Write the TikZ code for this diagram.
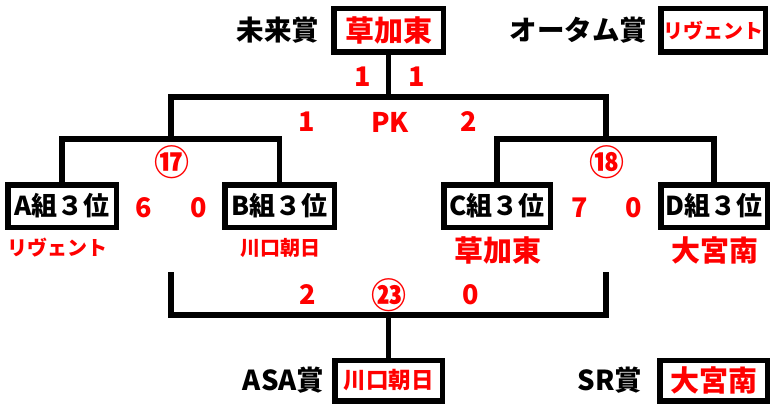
\documentclass[tikz,border=0pt]{standalone}
\usepackage{fontspec}
\setmainfont{Noto Sans CJK JP}
\usetikzlibrary{positioning}
\tikzset{
  teambox/.style={draw,line width=5.5pt,minimum height=43.5pt,inner sep=0pt,text=red},
  grpbox/.style={draw,line width=5.5pt,minimum width=108.5pt,minimum height=42.5pt,inner sep=0pt,font=\bfseries\fontsize{26}{26}\selectfont},
  prize/.style={inner sep=0pt,font=\bfseries\fontsize{27.5}{28}\selectfont},
  winner/.style={text=red,inner sep=0pt},
  score/.style={text=red,inner sep=0pt,font=\bfseries\fontsize{27}{27}\selectfont},
  circ/.style={text=red,inner sep=0pt,font=\bfseries\fontsize{35}{35}\selectfont},
  big/.style={font=\bfseries\fontsize{29}{29}\selectfont},
  small/.style={font=\bfseries\fontsize{20}{20}\selectfont}
}
\begin{document}
\begin{tikzpicture}[x=1pt,y=-1pt,line width=5.5pt]
\useasboundingbox (0,0) rectangle (771,404);
% boxes
\node[teambox,big,minimum width=109.5pt] (champ) at (388.5,30.5) {草加東};
\node[teambox,small,minimum width=104.5pt] (autumn) at (713,30.5) {リヴェント};
\node[grpbox] (a3) at (62,206) {A組３位};
\node[grpbox,minimum width=109.5pt] (b3) at (279.5,206) {B組３位};
\node[grpbox,minimum width=106.5pt] (c3) at (497,206) {C組３位};
\node[grpbox,minimum width=106.5pt] (d3) at (714,206) {D組３位};
\node[teambox,font=\bfseries\fontsize{22.5}{23}\selectfont,minimum width=107.5pt,minimum height=40.5pt] (asa) at (388.5,380.5) {川口朝日};
\node[teambox,big,minimum width=107.5pt,minimum height=40.5pt] (sr) at (713.5,380.5) {大宮南};
% prizes
\node[prize,left=9pt of champ] {未来賞};
\node[prize,left=8pt of autumn] {オータム賞};
\node[prize,left=5pt of asa] {ASA賞};
\node[prize,left=12pt of sr] {SR賞};
% teams
\node[winner,small] (ta) at (58,248) {リヴェント};
\node[winner,small] (tb) at (280,248) {川口朝日};
\node[winner,big] (tc) at (498,250) {草加東};
\node[winner,big] (td) at (715,250) {大宮南};
% bracket
\coordinate (ab) at (171,139);
\coordinate (cd) at (606,139);
\coordinate (fin) at (388.5,97);
\coordinate (lft) at (171,272);
\coordinate (rgt) at (606,272);
\coordinate (third) at (388.5,315);
\draw (a3.north) |- (ab) -| (b3.north);
\draw (c3.north) |- (cd) -| (d3.north);
\draw (ab) |- (fin) -| (cd);
\draw (fin) -- (champ.south);
\draw (lft) |- (third) -| (rgt);
\draw (third) -- (asa.north);
% scores
\node[score] at (363,77) {1};
\node[score] at (417,77) {1};
\node[score] at (307,122) {1};
\node[score] at (390,122) {PK};
\node[score] at (469,122) {2};
\node[score] at (144,208) {6};
\node[score] at (199,208) {0};
\node[score] at (580,208) {7};
\node[score] at (634,208) {0};
\node[score] at (308,295) {2};
\node[score] at (471,295) {0};
\node[circ] at (172,162) {⑰};
\node[circ] at (607,162) {⑱};
\node[circ] at (389,295) {㉓};
\end{tikzpicture}
\end{document}
